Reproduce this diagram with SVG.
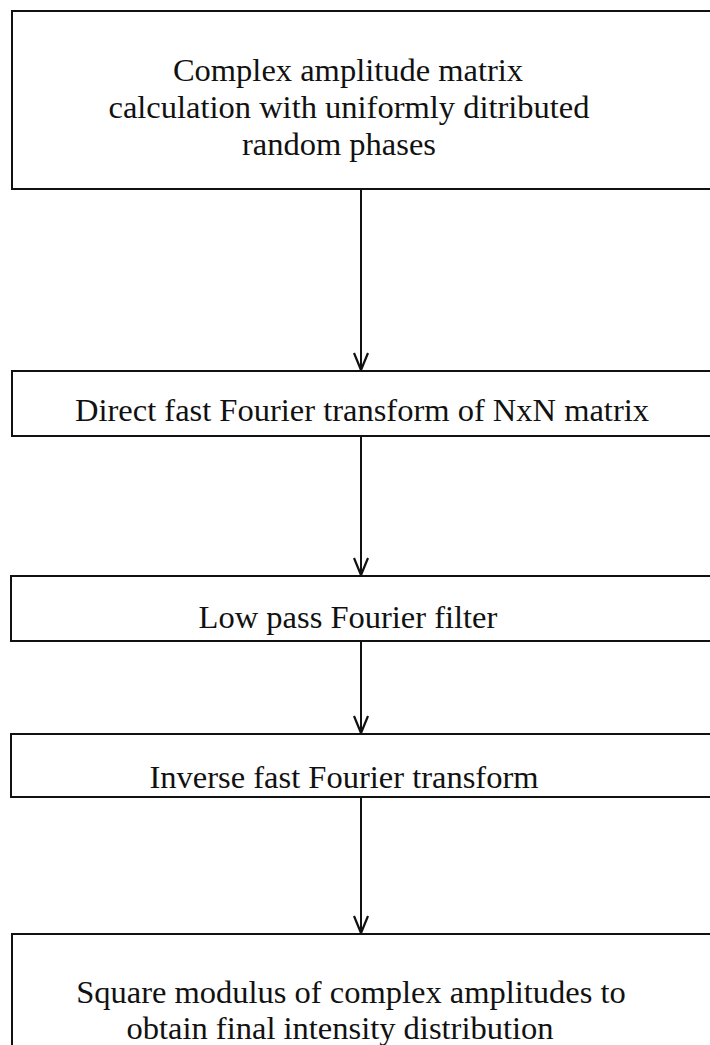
<svg xmlns="http://www.w3.org/2000/svg" width="710" height="1045" viewBox="0 0 710 1045">
  <style>
    .box { fill: #ffffff; stroke: #111111; stroke-width: 2; }
    .label { font-family: "Liberation Serif", "Times New Roman", serif; font-size: 32.5px; fill: #111111; text-anchor: middle; }
    .link { stroke: #111111; stroke-width: 2; fill: none; }
    .head { stroke: #111111; stroke-width: 2.2; fill: none; stroke-linejoin: miter; }
  </style>
  <rect width="710" height="1045" fill="#ffffff"/>

  <!-- vertical flow arrows between the processing steps -->
  <g id="connectors">
    <line class="link" x1="361" y1="189" x2="361" y2="370"/>
    <polyline class="head" points="354,353 361,370 368,353"/>
    <line class="link" x1="361" y1="436" x2="361" y2="575"/>
    <polyline class="head" points="354,558 361,575 368,558"/>
    <line class="link" x1="361" y1="641" x2="361" y2="733"/>
    <polyline class="head" points="354,716 361,733 368,716"/>
    <line class="link" x1="361" y1="797" x2="361" y2="933"/>
    <polyline class="head" points="354,916 361,933 368,916"/>
  </g>

  <g id="node-complex-amplitude">
    <rect class="box" x="12" y="11" width="720" height="178"/>
    <text class="label" x="348" y="81">Complex amplitude matrix</text>
    <text class="label" x="349" y="118">calculation with uniformly ditributed</text>
    <text class="label" x="339" y="155">random phases</text>
  </g>

  <g id="node-direct-fft">
    <rect class="box" x="12" y="371" width="720" height="65"/>
    <text class="label" x="362" y="421">Direct fast Fourier transform of NxN matrix</text>
  </g>

  <g id="node-low-pass">
    <rect class="box" x="11" y="576" width="720" height="65"/>
    <text class="label" x="348" y="628">Low pass Fourier filter</text>
  </g>

  <g id="node-inverse-fft">
    <rect class="box" x="11" y="734" width="720" height="63"/>
    <text class="label" x="344" y="788">Inverse fast Fourier transform</text>
  </g>

  <g id="node-square-modulus">
    <rect class="box" x="12" y="934" width="720" height="140"/>
    <text class="label" x="351" y="1003">Square modulus of complex amplitudes to</text>
    <text class="label" x="340" y="1039">obtain final intensity distribution</text>
  </g>
</svg>
